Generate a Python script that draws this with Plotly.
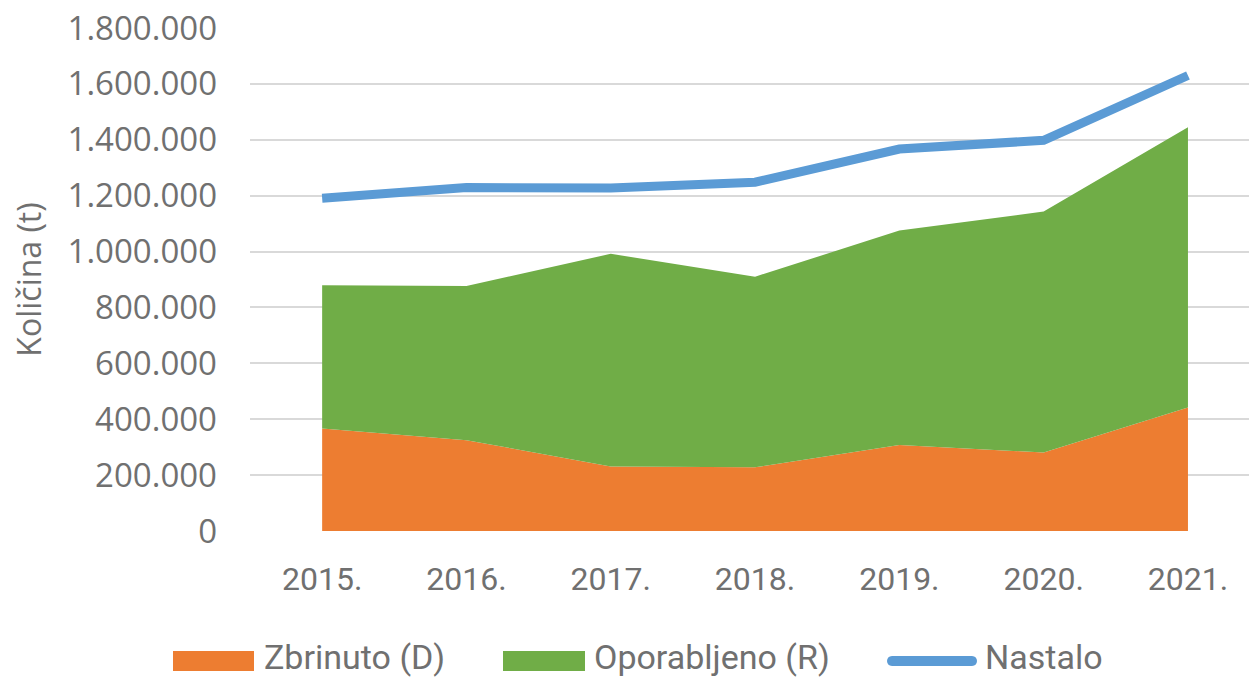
import plotly.graph_objects as go

# Annual waste quantities (t)
years = ["2015.", "2016.", "2017.", "2018.", "2019.", "2020.", "2021."]
zbrinuto = [367000, 325000, 231000, 228000, 308000, 281000, 442000]
oporabljeno = [512000, 552000, 761000, 682000, 767000, 862000, 1003000]
nastalo = [1191000, 1229000, 1227000, 1248000, 1367000, 1398000, 1630000]
series_names = ["Zbrinuto (D)", "Oporabljeno (R)", "Nastalo"]
y_ticks = [0, 200000, 400000, 600000, 800000, 1000000, 1200000, 1400000, 1600000, 1800000]
y_title = "Količina (t)"

ORANGE = "#ED7D31"
GREEN = "#70AD47"
BLUE = "#5B9BD5"
TEXT = "#707070"
GRID = "#D9D9D9"

W, H = 1249, 679
M_L, M_R, M_T, M_B = 250, 0, 28, 148
PW, PH = W - M_L - M_R, H - M_T - M_B

NARROW = "Roboto, sans-serif"
WIDE = "Open Sans, sans-serif"


def px_x(px):
    return (px - M_L) / PW


def px_y(py):
    return (H - M_B - py) / PH


fig = go.Figure()

fig.add_trace(go.Scatter(
    x=years, y=zbrinuto, name=series_names[0], stackgroup="waste",
    mode="none", fillcolor=ORANGE, showlegend=False,
))
fig.add_trace(go.Scatter(
    x=years, y=oporabljeno, name=series_names[1], stackgroup="waste",
    mode="none", fillcolor=GREEN, showlegend=False,
))
fig.add_trace(go.Scatter(
    x=years, y=nastalo, name=series_names[2], mode="lines",
    line=dict(color=BLUE, width=9), showlegend=False,
))

# Legend drawn below the plot area
shapes = []
annotations = []
legend_y = 661
swatches = [(173, 254, 262), (503, 585, 592), (887, 977, 983)]
for i, (x0, x1, tx) in enumerate(swatches):
    if i < 2:
        shapes.append(dict(
            type="rect", xref="paper", yref="paper",
            x0=px_x(x0), x1=px_x(x1), y0=px_y(legend_y + 10), y1=px_y(legend_y - 10),
            fillcolor=[ORANGE, GREEN][i], line=dict(width=0), layer="above",
        ))
    else:
        half = (x1 - x0) / 2 - 5
        r = 5
        k = r * 4 / 3
        path = (
            f"M{-half},{-r} L{half},{-r} C{half + k},{-r} {half + k},{r} {half},{r} "
            f"L{-half},{r} C{-half - k},{r} {-half - k},{-r} {-half},{-r} Z"
        )
        shapes.append(dict(
            type="path", xref="paper", yref="paper",
            xsizemode="pixel", ysizemode="pixel",
            xanchor=px_x((x0 + x1) / 2), yanchor=px_y(legend_y),
            path=path, fillcolor=BLUE, line=dict(width=0), layer="above",
        ))
    annotations.append(dict(
        text=series_names[i], xref="paper", yref="paper",
        x=px_x(tx), y=px_y(legend_y - 4), xanchor="left", yanchor="middle",
        showarrow=False, font=dict(family=NARROW, size=34, color=TEXT),
    ))

fig.update_layout(
    width=W, height=H,
    margin=dict(l=M_L, r=M_R, t=M_T, b=M_B, pad=0),
    paper_bgcolor="white", plot_bgcolor="white",
    separators=",.",
    showlegend=False,
    shapes=shapes,
    annotations=annotations,
    xaxis=dict(
        type="category", range=[-0.5, 6.423],
        showgrid=False, showline=False, zeroline=False, ticks="",
        tickfont=dict(family=NARROW, size=32, color=TEXT),
        ticklabelstandoff=26,
    ),
    yaxis=dict(
        range=[0, 1800000], tickvals=y_ticks, tickformat=",d",
        showgrid=True, gridcolor=GRID, gridwidth=2,
        showline=False, zeroline=False, ticks="",
        tickfont=dict(family=WIDE, size=33, color=TEXT),
        ticklabelstandoff=32,
        title=dict(text=y_title, font=dict(family=WIDE, size=32, color=TEXT), standoff=16),
    ),
)

fig.write_html("out.html")
